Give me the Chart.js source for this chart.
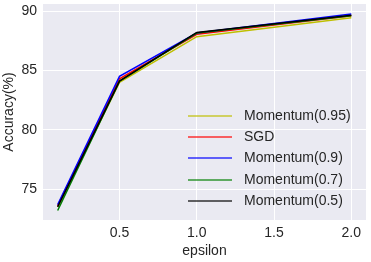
<!DOCTYPE html>
<html lang="en">
<head>
  <meta charset="UTF-8">
  <title>Accuracy vs epsilon</title>
  <script src="https://cdn.jsdelivr.net/npm/chart.js@4"></script>
  <style>
    html, body { margin: 0; padding: 0; background: #fff; }
    #wrap { width: 371px; height: 262px; }
  </style>
</head>
<body>
  <div id="wrap"><canvas id="myChart" width="371" height="262"></canvas></div>
  <script>
    // data
    const epsilons = [0.1, 0.5, 1.0, 2.0];
    const seriesNames = ['Momentum(0.95)', 'SGD', 'Momentum(0.9)', 'Momentum(0.7)', 'Momentum(0.5)'];
    const m095 = [73.5, 84.0, 87.85, 89.45];
    const sgd  = [73.6, 84.3, 88.05, 89.6];
    const m09  = [73.7, 84.5, 88.15, 89.75];
    const m07  = [73.2, 84.1, 88.15, 89.6];
    const m05  = [73.5, 84.1, 88.2, 89.65];
    const xTicks = [0.5, 1.0, 1.5, 2.0];
    const yTicks = [75, 80, 85, 90];

    const seriesValues = [m095, sgd, m09, m07, m05];
    const colors = ['#BFBF00', '#FF0000', '#0000FF', '#008000', '#000000'];
    const FONT = 'Liberation Sans, Arial, sans-serif';
    const TEXT = '#262626';

    const datasets = seriesValues.map((vals, i) => ({
      label: seriesNames[i],
      data: vals.map((v, j) => ({x: epsilons[j], y: v})),
      borderColor: colors[i],
      backgroundColor: colors[i],
      borderWidth: 1.5,
      pointRadius: 0,
      tension: 0,
      order: seriesValues.length - i  // later series drawn on top, like matplotlib
    }));

    // grey seaborn-like background behind the plot
    const bgPlugin = {
      id: 'bg',
      beforeDraw(chart) {
        const {ctx, chartArea: a} = chart;
        ctx.save();
        ctx.fillStyle = '#EAEAF2';
        ctx.fillRect(a.left, a.top, a.right - a.left, a.bottom - a.top);
        ctx.restore();
      }
    };

    // legend inside the plot, lower right, no frame
    const legendPlugin = {
      id: 'innerLegend',
      afterDraw(chart) {
        const {ctx} = chart;
        ctx.save();
        ctx.font = '14px ' + FONT;
        ctx.textBaseline = 'middle';
        ctx.textAlign = 'left';
        chart.data.datasets.forEach((ds, i) => {
          const y = Math.round(116 + i * 21.2);
          ctx.strokeStyle = ds.borderColor;
          ctx.globalAlpha = 0.8;
          ctx.lineWidth = 1.5;
          ctx.beginPath();
          ctx.moveTo(188, y);
          ctx.lineTo(232, y);
          ctx.stroke();
          ctx.globalAlpha = 1;
          ctx.fillStyle = TEXT;
          ctx.fillText(ds.label, 244, y + 0.5);
        });
        ctx.restore();
      }
    };

    const ctx = document.getElementById('myChart').getContext('2d');
    new Chart(ctx, {
      type: 'line',
      data: {datasets: datasets},
      options: {
        responsive: false,
        animation: false,
        layout: {padding: {top: 4, right: 5, left: 0, bottom: 0}},
        plugins: {legend: {display: false}, tooltip: {enabled: false}},
        scales: {
          x: {
            type: 'linear',
            min: 0.005,
            max: 2.095,
            afterBuildTicks: s => { s.ticks = xTicks.map(v => ({value: v})); },
            afterFit: s => { s.height = 42; s.paddingLeft = 0; s.paddingRight = 0; },
            grid: {color: '#FFFFFF', lineWidth: 1, drawTicks: false},
            border: {display: false},
            ticks: {
              color: TEXT, font: {family: FONT, size: 14}, padding: 5,
              callback: v => v.toFixed(1)
            },
            title: {display: true, text: 'epsilon', color: TEXT, font: {family: FONT, size: 14}, padding: {top: 0, bottom: 2}}
          },
          y: {
            min: 72.4,
            max: 90.6,
            afterBuildTicks: s => { s.ticks = yTicks.map(v => ({value: v})); },
            afterFit: s => { s.width = 43; s.paddingTop = 0; s.paddingBottom = 0; },
            grid: {color: '#FFFFFF', lineWidth: 1, drawTicks: false},
            border: {display: false},
            ticks: {color: TEXT, font: {family: FONT, size: 14}, padding: 6},
            title: {display: true, text: 'Accuracy(%)', color: TEXT, font: {family: FONT, size: 14}, padding: {top: 1, bottom: 0}}
          }
        }
      },
      plugins: [bgPlugin, legendPlugin]
    });
  </script>
</body>
</html>
